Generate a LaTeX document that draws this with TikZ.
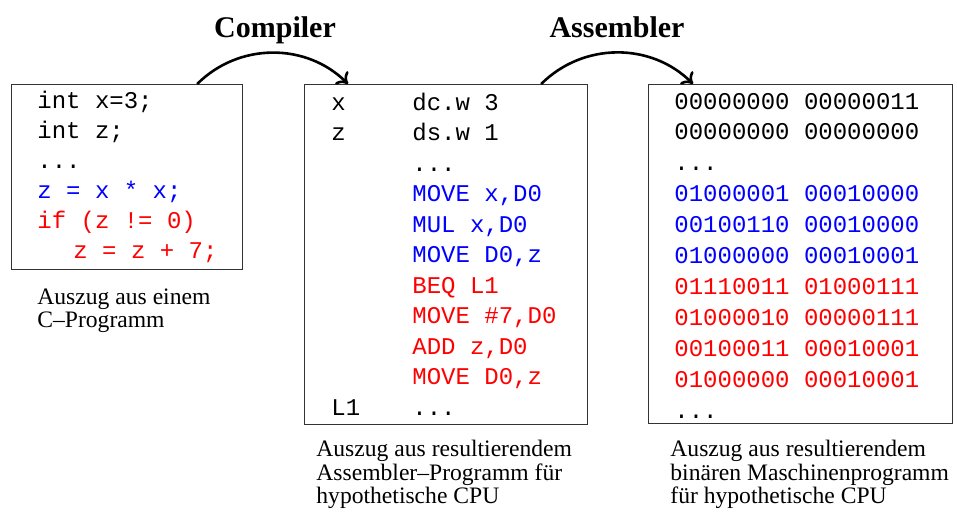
\documentclass[tikz,border=0pt]{standalone}
\usepackage{fontspec}
\setmainfont{Liberation Serif}
\setmonofont{Liberation Mono}
\usetikzlibrary{arrows.meta}

\tikzset{
    codebox/.style={draw=black!80, line width=0.6pt, anchor=north west, inner sep=0pt},
    code/.style={anchor=base west, inner sep=0pt, font=\ttfamily\fontsize{12}{14}\selectfont},
    caption/.style={anchor=north west, inner sep=0pt, align=left, font=\fontsize{11.8}{11.8}\selectfont},
    title/.style={anchor=base, inner sep=0pt, font=\bfseries\fontsize{15}{18}\selectfont},
    flow/.style={line width=1.3pt, -{To[length=5pt,width=9pt]}, bend left=45},
}

\begin{document}
\begin{tikzpicture}[x=0.5pt, y=-0.5pt]
    \useasboundingbox (0,0) rectangle (957,514);
    % boxes: C source, assembler, machine code
    \node[codebox, minimum width=115.5pt, minimum height=92.5pt] (cbox) at (11,84) {};
    \node[codebox, minimum width=141.5pt, minimum height=170pt] (abox) at (304,84) {};
    \node[codebox, minimum width=152pt, minimum height=169.5pt] (mbox) at (648,84) {};

    \def\cs{black/{int x=3;},black/{int z;},black/{...},blue/{z = x * x;},red/{if (z != 0)}}
    \foreach \col/\txt [count=\i from 1] in \cs {\node[code, text=\col] (c\i) at (37,{108+30*(\i-1)}) {\txt};}
    \node[code, text=red] (c6) at (73,258) {z = z + 7;};

    \def\as{black/{dc.w 3},black/{ds.w 1},black/{...},blue/{MOVE x,D0},blue/{MUL x,D0},blue/{MOVE D0,z},red/{BEQ L1},red/{MOVE \#7,D0},red/{ADD z,D0},red/{MOVE D0,z},black/{...}}
    \foreach \col/\txt [count=\i from 1] in \as {\node[code, text=\col] (a\i) at (412,{110+30.5*(\i-1)}) {\txt};}
    \foreach \lab/\i in {x/1,z/2,L1/11} {\node[code] (l\i) at (331,{110+30.5*(\i-1)}) {\lab};}

    \def\ms{black/{00000000 00000011},black/{00000000 00000000},black/{...},blue/{01000001 00010000},blue/{00100110 00010000},blue/{01000000 00010001},red/{01110011 01000111},red/{01000010 00000111},red/{00100011 00010001},red/{01000000 00010001},black/{...}}
    \foreach \col/\txt [count=\i from 1] in \ms {\node[code, text=\col] (m\i) at (674,{109+30.9*(\i-1)}) {\txt};}

    % captions
    \node[caption] (capc) at (37,288) {Auszug aus einem\\C--Programm};
    \node[caption] (capa) at (316,440) {Auszug aus resultierendem\\Assembler--Programm für\\hypothetische CPU};
    \node[caption] (capm) at (670,440) {Auszug aus resultierendem\\binären Maschinenprogramm\\für hypothetische CPU};

    % translation steps
    \node[title] (tcomp) at (275,37) {Compiler};
    \node[title] (tasm) at (617,37) {Assembler};
    \draw[flow] ([xshift=-23pt]cbox.north east) to ([xshift=22pt]abox.north west);
    \draw[flow] ([xshift=-23.5pt]abox.north east) to ([xshift=22.5pt]mbox.north west);
\end{tikzpicture}
\end{document}
